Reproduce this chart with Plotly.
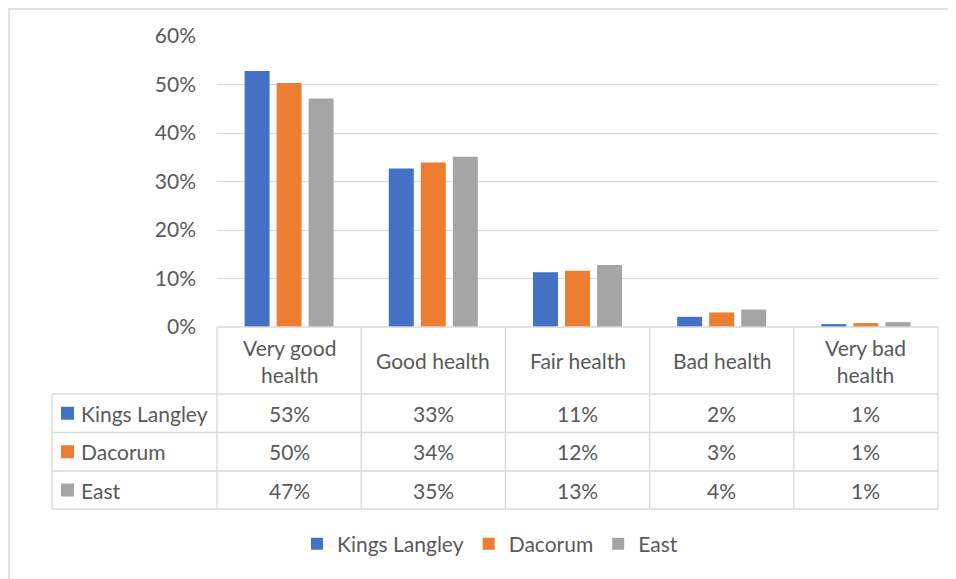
import plotly.graph_objects as go

# health categories and shares (%) per area
categories = ["Very good health", "Good health", "Fair health", "Bad health", "Very bad health"]
header_labels = ["Very good<br>health", "Good health", "Fair health", "Bad health", "Very bad<br>health"]
kings_langley = [52.8, 32.7, 11.3, 2.1, 0.6]
dacorum = [50.3, 33.9, 11.6, 3.0, 0.8]
east = [47.1, 35.1, 12.8, 3.6, 1.0]
y_ticks = [0, 10, 20, 30, 40, 50, 60]
y_tick_labels = ["0%", "10%", "20%", "30%", "40%", "50%", "60%"]

series = [("Kings Langley", kings_langley, "#4472C4"),
          ("Dacorum", dacorum, "#ED7D31"),
          ("East", east, "#A5A5A5")]

O = 8                     # page body margin
W, H = 956 - O, 579 - O
L, R, T, B = 217, 938, 36, 327   # plot area in page px
font_family = "Lato, 'Open Sans', sans-serif"
txt_col = "#595959"
grid_col = "#d9d9d9"
FS = 21


def py(y):
    """page pixel y -> paper y"""
    return (B - y) / (B - T)


def px(x):
    """page pixel x -> paper x"""
    return (x - L) / (R - L)


fig = go.Figure()
for name, vals, col in series:
    fig.add_trace(go.Bar(x=categories, y=vals, name=name, marker_color=col,
                         marker_line_width=0))

shapes = []
annotations = []

# table geometry
header_bottom = 394
row_edges = [394, 432.5, 471, 509]
table_left = 52
n = len(categories)

line = dict(color=grid_col, width=1.3)
# horizontal lines
shapes.append(dict(type="line", xref="paper", yref="paper", x0=0, x1=1,
                   y0=py(B), y1=py(B), line=line))
for ry in row_edges:
    shapes.append(dict(type="line", xref="paper", yref="paper", x0=px(table_left), x1=1,
                       y0=py(ry), y1=py(ry), line=line))
# vertical lines
for i in range(n + 1):
    shapes.append(dict(type="line", xref="paper", yref="paper", x0=i / n, x1=i / n,
                       y0=py(B), y1=py(row_edges[-1]), line=line))
shapes.append(dict(type="line", xref="paper", yref="paper", x0=px(table_left), x1=px(table_left),
                   y0=py(row_edges[0]), y1=py(row_edges[-1]), line=line))

# header labels
for i, lab in enumerate(header_labels):
    annotations.append(dict(xref="x", yref="paper", x=categories[i], y=py((B + header_bottom) / 2),
                            text=lab, showarrow=False, font=dict(size=FS, color=txt_col),
                            xanchor="center", yanchor="middle"))

# table rows
for r, (name, vals, col) in enumerate(series):
    yc = (row_edges[r] + row_edges[r + 1]) / 2
    shapes.append(dict(type="rect", xref="paper", yref="paper",
                       x0=px(61), x1=px(74), y0=py(yc - 6.5), y1=py(yc + 6.5),
                       fillcolor=col, line_width=0))
    annotations.append(dict(xref="paper", yref="paper", x=px(79), y=py(yc), text=name,
                            showarrow=False, xanchor="left", yanchor="middle",
                            font=dict(size=FS, color=txt_col)))
    for i, v in enumerate(vals):
        annotations.append(dict(xref="x", yref="paper", x=categories[i], y=py(yc),
                                text=f"{round(v)}%", showarrow=False,
                                xanchor="center", yanchor="middle",
                                font=dict(size=FS, color=txt_col)))

# outer chart border (right and bottom edges fall outside the picture)
shapes.append(dict(type="rect", xref="paper", yref="paper",
                   x0=px(9), x1=px(W + 40), y0=py(9), y1=py(H + 40),
                   line=dict(color=grid_col, width=1.5), fillcolor="rgba(0,0,0,0)", layer="below"))

fig.update_layout(
    width=W, height=H,
    margin=dict(l=L - O, r=W + O - R, t=T - O, b=H + O - B),
    paper_bgcolor="white", plot_bgcolor="white",
    font=dict(family=font_family, size=FS, color=txt_col),
    barmode="group", bargap=0.334, bargroupgap=0.22,
    showlegend=True,
    legend=dict(orientation="h", x=px(490), xanchor="center", y=py(544), yanchor="middle",
                font=dict(size=FS, color=txt_col), itemwidth=30, tracegroupgap=0),
    shapes=shapes, annotations=annotations,
)
fig.update_xaxes(showticklabels=False, showgrid=False, zeroline=False, showline=False,
                 range=[-0.5, n - 0.5])
fig.update_yaxes(range=[0, 60], tickvals=y_ticks, ticktext=y_tick_labels, showgrid=True,
                 gridcolor=grid_col, gridwidth=1.3, zeroline=False, showline=False,
                 ticklabelstandoff=20, tickfont=dict(size=FS, color=txt_col))

fig.write_html("out.html")
